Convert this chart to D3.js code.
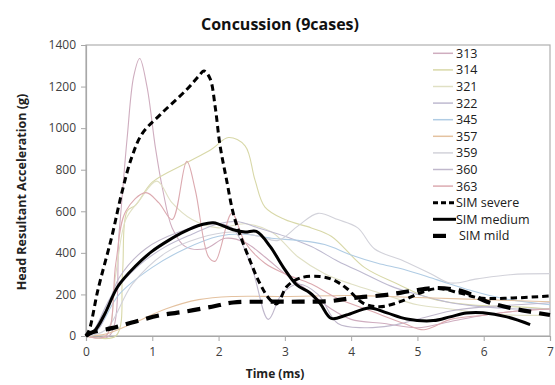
<!DOCTYPE html>
<html><head><meta charset="utf-8">
<script src="https://cdn.jsdelivr.net/npm/d3@7"></script>
<style>body{margin:0;background:#fff;}svg{display:block;}</style>
</head><body>
<svg id="c" width="555" height="385"></svg>
<script>
const xTicks = [0,1,2,3,4,5,6,7];
const yTicks = [0,200,400,600,800,1000,1200,1400];
const caseNames = ["313","314","321","322","345","357","359","360","363"];
const caseColors = ["#cfadbf","#d8d8a8","#e0e0c4","#bebad0","#b0cce4","#e4c2a0","#d2d2da","#c0b8cc","#dcaab0"];
const s313 = [[0,0],[0.35,0],[0.5,500],[0.62,950],[0.72,1250],[0.81,1335],[0.92,1200],[1.05,900],[1.16,700],[1.3,520],[1.5,430],[1.8,420],[2.1,470],[2.4,450],[2.7,380],[3.0,300],[3.3,230],[3.7,130],[4.0,80],[4.5,60],[5.0,40],[5.5,70],[6.0,100],[6.5,120],[7.0,130]];
const s314 = [[0,0],[0.45,0],[0.55,300],[0.62,600],[0.75,630],[1.0,740],[1.5,830],[1.9,900],[2.15,955],[2.4,915],[2.55,750],[2.7,620],[3.0,560],[3.4,520],[3.7,480],[4.2,330],[4.7,250],[5.2,180],[5.8,150],[6.5,140],[7,130]];
const s321 = [[0,0],[0.3,0],[0.45,300],[0.6,560],[0.8,650],[1.07,745],[1.3,640],[1.6,560],[2.0,520],[2.4,540],[2.8,500],[3.2,380],[3.6,300],[4.0,250],[4.5,200],[5.0,150],[5.5,130],[6.0,110],[6.5,100],[7,100]];
const s322 = [[0,0],[0.1,20],[0.4,200],[0.8,340],[1.2,430],[1.6,490],[2.0,540],[2.3,550],[2.6,520],[3.0,480],[3.4,430],[3.8,360],[4.2,300],[4.6,240],[5.0,200],[5.5,160],[6,140],[6.5,130],[7,130]];
const s345 = [[0,0],[0.15,20],[0.5,200],[1.0,330],[1.5,420],[2.0,480],[2.4,490],[2.8,470],[3.2,460],[3.6,440],[4.0,390],[4.4,350],[4.8,320],[5.3,270],[5.8,220],[6.3,180],[7,150]];
const s357 = [[0,0],[0.3,10],[0.7,60],[1.2,130],[1.7,175],[2.2,190],[3,190],[4,195],[5,185],[6,175],[7,165]];
const s359 = [[0,0],[0.3,30],[0.7,250],[1.2,400],[1.7,470],[2.2,500],[2.6,480],[2.9,460],[3.2,530],[3.5,590],[3.8,560],[4.1,520],[4.35,420],[4.8,360],[5.2,300],[5.5,255],[5.9,275],[6.4,295],[7,300]];
const s360 = [[0,0],[0.2,40],[0.5,280],[0.9,420],[1.4,500],[1.9,540],[2.2,520],[2.5,330],[2.75,80],[2.95,200],[3.2,250],[3.5,200],[3.8,60],[4.2,40],[4.6,50],[5.0,80],[5.5,120],[6.0,140],[6.5,150],[7,160]];
const s363 = [[0,0],[0.3,0],[0.45,350],[0.6,600],[0.9,690],[1.1,640],[1.3,560],[1.52,840],[1.65,700],[1.85,380],[1.95,360],[2.2,590],[2.4,450],[2.7,350],[3.0,300],[3.4,250],[3.8,180],[4.3,120],[4.8,60],[5.1,30],[5.5,80],[6,100],[6.5,120],[7,130]];
const simSevere = [[0,0],[0.05,30],[0.18,222],[0.39,479],[0.54,689],[0.69,860],[0.85,975],[1.12,1065],[1.52,1186],[1.7,1250],[1.78,1275],[1.87,1240],[1.95,1100],[2.02,920],[2.12,752],[2.22,592],[2.32,490],[2.47,366],[2.62,255],[2.78,173],[2.88,155],[3.03,238],[3.23,279],[3.53,286],[3.73,270],[3.93,230],[4.18,158],[4.43,141],[4.74,165],[5.04,207],[5.3,228],[5.64,207],[5.94,183],[6.44,183],[7.0,193]];
const simMedium = [[0,0],[0.14,29],[0.29,111],[0.48,238],[0.74,334],[0.99,406],[1.24,459],[1.49,503],[1.74,535],[1.92,545],[2.22,511],[2.4,500],[2.57,503],[2.78,430],[2.97,334],[3.18,246],[3.38,207],[3.53,158],[3.7,85],[3.93,101],[4.28,135],[4.54,111],[4.84,82],[5.24,74],[5.49,92],[5.74,111],[5.99,112],[6.35,92],[6.7,55]];
const simMild = [[0,0],[0.06,14],[0.39,38],[0.74,69],[1.14,101],[1.49,117],[1.9,141],[2.22,161],[2.72,165],[3.23,165],[3.68,168],[4.03,183],[4.54,198],[4.93,218],[5.3,231],[5.69,214],[6.05,165],[6.4,135],[6.7,117],[7.0,101]];
const caseData = [s313,s314,s321,s322,s345,s357,s359,s360,s363];
const simNames = ["SIM severe","SIM medium","SIM mild"];
const simData = [simSevere, simMedium, simMild];

const svg = d3.select("#c");
const font = "'Open Sans', sans-serif";
const L = 86, R = 550, T = 45, B = 336;
const x = d3.scaleLinear().domain([0,7]).range([L,R]);
const y = d3.scaleLinear().domain([0,1400]).range([B,T]);

svg.append("rect").attr("x",L).attr("y",T).attr("width",R-L).attr("height",B-T)
  .attr("fill","none").attr("stroke","#b0b0b0").attr("stroke-width",1.2);

const xa = svg.append("g").attr("transform",`translate(0,${B})`)
  .call(d3.axisBottom(x).tickValues(xTicks).tickSize(5).tickPadding(6).tickFormat(d3.format("d")));
const ya = svg.append("g").attr("transform",`translate(${L},0)`)
  .call(d3.axisLeft(y).tickValues(yTicks).tickSize(5).tickPadding(5).tickFormat(d3.format("d")));
[xa,ya].forEach(a=>{
  a.select(".domain").attr("stroke","#a8a8a8").attr("stroke-width",1.2);
  a.selectAll(".tick line").attr("stroke","#a8a8a8");
  a.selectAll("text").attr("fill","#404040").style("font-family",font).style("font-size","12px");
});

const lineC = d3.line().x(d=>x(d[0])).y(d=>y(d[1])).curve(d3.curveCatmullRom.alpha(0.5));

caseData.forEach((s,i)=>{
  svg.append("path").attr("d",lineC(s)).attr("fill","none")
    .attr("stroke",caseColors[i]).attr("stroke-width",1.1);
});
const simStyles = [
  {w:3, dash:"6.5,4"},
  {w:3, dash:null},
  {w:4.2, dash:"13,8"}
];
simData.forEach((s,i)=>{
  const p = svg.append("path").attr("d",lineC(s)).attr("fill","none")
    .attr("stroke","#000").attr("stroke-width",simStyles[i].w).attr("stroke-linejoin","round");
  if (simStyles[i].dash) p.attr("stroke-dasharray",simStyles[i].dash);
});

const lg = svg.append("g");
const rowY = i => 53.3 + i*16.6;
caseNames.forEach((n,i)=>{
  lg.append("line").attr("x1",433).attr("x2",453).attr("y1",rowY(i)).attr("y2",rowY(i))
    .attr("stroke",caseColors[i]).attr("stroke-width",1.5);
  lg.append("text").attr("x",456).attr("y",rowY(i)+4.5).text(n)
    .style("font-family",font).style("font-size","12.5px").attr("fill","#202020");
});
simNames.forEach((n,k)=>{
  const i = caseNames.length + k;
  const ly = rowY(i);
  if (k===0) {
    lg.append("line").attr("x1",433).attr("x2",456).attr("y1",ly).attr("y2",ly)
      .attr("stroke","#000").attr("stroke-width",3).attr("stroke-dasharray","5,3");
  } else if (k===1) {
    lg.append("line").attr("x1",433).attr("x2",456).attr("y1",ly).attr("y2",ly)
      .attr("stroke","#000").attr("stroke-width",3);
  } else {
    lg.append("line").attr("x1",433).attr("x2",446).attr("y1",ly).attr("y2",ly)
      .attr("stroke","#000").attr("stroke-width",4.2);
  }
  lg.append("text").attr("x", k===2 ? 459 : 456).attr("y",ly+4.5).text(n)
    .style("font-family",font).style("font-size","12.5px").attr("fill","#202020");
});

svg.append("text").attr("x",280).attr("y",30).attr("text-anchor","middle").text("Concussion (9cases)")
  .style("font-family",font).style("font-size","16px").style("font-weight","bold").attr("fill","#111");
svg.append("text").attr("x",275).attr("y",378).attr("text-anchor","middle").text("Time (ms)")
  .style("font-family",font).style("font-size","12px").style("font-weight","bold").attr("fill","#222");
svg.append("text").attr("transform","translate(26,192) rotate(-90)").attr("text-anchor","middle")
  .text("Head Resultant Acceleration (g)")
  .style("font-family",font).style("font-size","12.5px").style("font-weight","bold").attr("fill","#222");
</script>
</body></html>
